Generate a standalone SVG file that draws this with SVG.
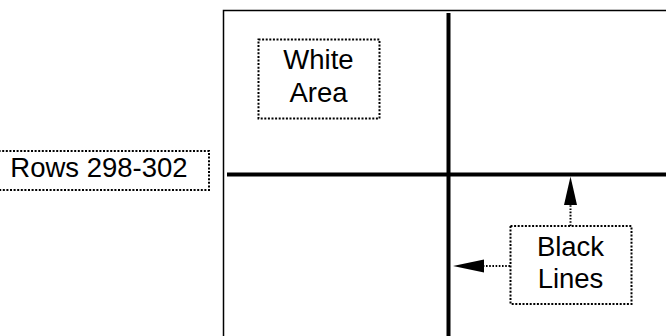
<svg xmlns="http://www.w3.org/2000/svg" width="666" height="336" viewBox="0 0 666 336">
<style>
.lbl{fill:#fff;stroke:#000;stroke-width:2;stroke-dasharray:2 1.6}
.t{font-family:"Liberation Sans",Arial,sans-serif;font-size:27.5px;fill:#000;text-anchor:middle}
.thick{stroke:#000;stroke-width:4;fill:none}
.dot{stroke:#000;stroke-width:2;stroke-dasharray:1.6 1.6;fill:none}
</style>
<g id="frame">
<rect x="223.5" y="10.5" width="460" height="340" fill="#fff" stroke="#000" stroke-width="1.5"/>
<line class="thick" x1="448.5" y1="13" x2="448.5" y2="336"/>
<line class="thick" x1="227" y1="174.5" x2="666" y2="174.5"/>
</g>
<g id="rows">
<rect class="lbl" x="-5" y="151" width="214" height="39"/>
<text class="t" x="99" y="177">Rows 298-302</text>
</g>
<g id="white-area">
<rect class="lbl" x="258.5" y="39.5" width="121" height="79"/>
<text class="t" x="318.5" y="69">White</text>
<text class="t" x="318.5" y="101.5">Area</text>
</g>
<g id="black-lines">
<rect class="lbl" x="510.5" y="226" width="121" height="78"/>
<text class="t" x="570.5" y="255.5">Black</text>
<text class="t" x="570.5" y="288">Lines</text>
</g>
<g id="connectors">
<line class="dot" x1="570.5" y1="226" x2="570.5" y2="205" />
<path d="M564,205 L570.5,176.5 L577,205 Z" fill="#000"/>
<line class="dot" x1="510" y1="266" x2="484" y2="266"/>
<path d="M484,259.5 L453,266 L484,272.5 Z" fill="#000"/>
</g>
</svg>
